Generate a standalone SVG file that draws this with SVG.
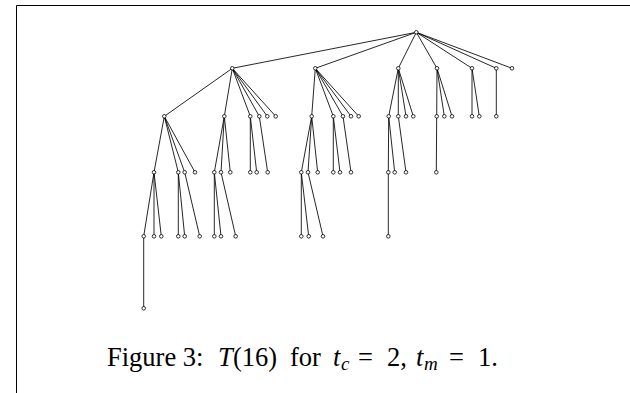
<svg xmlns="http://www.w3.org/2000/svg" width="630" height="393" viewBox="0 0 630 393">
<style>
.n{fill:#fff;stroke:#000;stroke-width:0.8}
.e line{stroke:#000;stroke-width:0.85}
.cap{font-family:"Liberation Serif","DejaVu Serif",serif;font-size:26.5px;fill:#000}
.it{font-style:italic}
.sub{font-size:19px;font-style:italic}
</style>
<rect width="630" height="393" fill="#fff"/>
<path d="M16.5,393 V5.5 H630" fill="none" stroke="#000" stroke-width="1"/>
<g id="connectors" class="e">
<line x1="416.3" y1="32.3" x2="232.3" y2="68.3"/>
<line x1="416.3" y1="32.3" x2="315.3" y2="68.3"/>
<line x1="416.3" y1="32.3" x2="398.3" y2="68.3"/>
<line x1="416.3" y1="32.3" x2="437" y2="68.3"/>
<line x1="416.3" y1="32.3" x2="472" y2="68.3"/>
<line x1="416.3" y1="32.3" x2="496.3" y2="68.3"/>
<line x1="416.3" y1="32.3" x2="512" y2="68.3"/>
<line x1="232.3" y1="68.3" x2="164.3" y2="116.3"/>
<line x1="232.3" y1="68.3" x2="224.3" y2="116.3"/>
<line x1="232.3" y1="68.3" x2="250.3" y2="116.3"/>
<line x1="232.3" y1="68.3" x2="259.3" y2="116.3"/>
<line x1="232.3" y1="68.3" x2="267.3" y2="116.3"/>
<line x1="232.3" y1="68.3" x2="275.7" y2="116.3"/>
<line x1="315.3" y1="68.3" x2="311.7" y2="116.3"/>
<line x1="315.3" y1="68.3" x2="333.3" y2="116.3"/>
<line x1="315.3" y1="68.3" x2="343" y2="116.3"/>
<line x1="315.3" y1="68.3" x2="351" y2="116.3"/>
<line x1="315.3" y1="68.3" x2="358.7" y2="116.3"/>
<line x1="398.3" y1="68.3" x2="388.7" y2="116.3"/>
<line x1="398.3" y1="68.3" x2="398.3" y2="116.3"/>
<line x1="398.3" y1="68.3" x2="406" y2="116.3"/>
<line x1="398.3" y1="68.3" x2="413.3" y2="116.3"/>
<line x1="437" y1="68.3" x2="436.7" y2="116.3"/>
<line x1="437" y1="68.3" x2="444.3" y2="116.3"/>
<line x1="437" y1="68.3" x2="452" y2="116.3"/>
<line x1="472" y1="68.3" x2="472" y2="116.3"/>
<line x1="472" y1="68.3" x2="479.3" y2="116.3"/>
<line x1="496.3" y1="68.3" x2="496.3" y2="116.3"/>
<line x1="164.3" y1="116.3" x2="154" y2="172.3"/>
<line x1="164.3" y1="116.3" x2="178.3" y2="172.3"/>
<line x1="164.3" y1="116.3" x2="184.7" y2="172.3"/>
<line x1="164.3" y1="116.3" x2="195" y2="172.3"/>
<line x1="224.3" y1="116.3" x2="214.3" y2="172.3"/>
<line x1="224.3" y1="116.3" x2="221" y2="172.3"/>
<line x1="224.3" y1="116.3" x2="230.3" y2="172.3"/>
<line x1="250.3" y1="116.3" x2="250.3" y2="172.3"/>
<line x1="250.3" y1="116.3" x2="256.7" y2="172.3"/>
<line x1="259.3" y1="116.3" x2="267.7" y2="172.3"/>
<line x1="311.7" y1="116.3" x2="301.3" y2="172.3"/>
<line x1="311.7" y1="116.3" x2="308" y2="172.3"/>
<line x1="311.7" y1="116.3" x2="317.7" y2="172.3"/>
<line x1="333.3" y1="116.3" x2="333.3" y2="172.3"/>
<line x1="333.3" y1="116.3" x2="340" y2="172.3"/>
<line x1="343" y1="116.3" x2="351" y2="172.3"/>
<line x1="388.7" y1="116.3" x2="388.3" y2="172.3"/>
<line x1="388.7" y1="116.3" x2="394.7" y2="172.3"/>
<line x1="398.3" y1="116.3" x2="406" y2="172.3"/>
<line x1="436.7" y1="116.3" x2="436.3" y2="172.3"/>
<line x1="154" y1="172.3" x2="143.7" y2="236.3"/>
<line x1="154" y1="172.3" x2="154" y2="236.3"/>
<line x1="154" y1="172.3" x2="161.3" y2="236.3"/>
<line x1="178.3" y1="172.3" x2="178.3" y2="236.3"/>
<line x1="178.3" y1="172.3" x2="184.7" y2="236.3"/>
<line x1="184.7" y1="172.3" x2="199.7" y2="236.3"/>
<line x1="214.3" y1="172.3" x2="214.3" y2="236.3"/>
<line x1="214.3" y1="172.3" x2="221" y2="236.3"/>
<line x1="221" y1="172.3" x2="235.7" y2="236.3"/>
<line x1="301.3" y1="172.3" x2="301.3" y2="236.3"/>
<line x1="301.3" y1="172.3" x2="308.7" y2="236.3"/>
<line x1="308" y1="172.3" x2="323" y2="236.3"/>
<line x1="388.3" y1="172.3" x2="388.3" y2="236.3"/>
<line x1="143.7" y1="236.3" x2="143.7" y2="308.3"/>
</g>
<g id="nodes">
<g id="r"><circle class="n" cx="416.3" cy="32.3" r="1.8"/></g>
<g id="a"><circle class="n" cx="232.3" cy="68.3" r="1.8"/></g>
<g id="b"><circle class="n" cx="315.3" cy="68.3" r="1.8"/></g>
<g id="c"><circle class="n" cx="398.3" cy="68.3" r="1.8"/></g>
<g id="d"><circle class="n" cx="437" cy="68.3" r="1.8"/></g>
<g id="e"><circle class="n" cx="472" cy="68.3" r="1.8"/></g>
<g id="f"><circle class="n" cx="496.3" cy="68.3" r="1.8"/></g>
<g id="g"><circle class="n" cx="512" cy="68.3" r="1.8"/></g>
<g id="a1"><circle class="n" cx="164.3" cy="116.3" r="1.8"/></g>
<g id="a2"><circle class="n" cx="224.3" cy="116.3" r="1.8"/></g>
<g id="a3"><circle class="n" cx="250.3" cy="116.3" r="1.8"/></g>
<g id="a4"><circle class="n" cx="259.3" cy="116.3" r="1.8"/></g>
<g id="a5"><circle class="n" cx="267.3" cy="116.3" r="1.8"/></g>
<g id="a6"><circle class="n" cx="275.7" cy="116.3" r="1.8"/></g>
<g id="b1"><circle class="n" cx="311.7" cy="116.3" r="1.8"/></g>
<g id="b2"><circle class="n" cx="333.3" cy="116.3" r="1.8"/></g>
<g id="b3"><circle class="n" cx="343" cy="116.3" r="1.8"/></g>
<g id="b4"><circle class="n" cx="351" cy="116.3" r="1.8"/></g>
<g id="b5"><circle class="n" cx="358.7" cy="116.3" r="1.8"/></g>
<g id="c1"><circle class="n" cx="388.7" cy="116.3" r="1.8"/></g>
<g id="c2"><circle class="n" cx="398.3" cy="116.3" r="1.8"/></g>
<g id="c3"><circle class="n" cx="406" cy="116.3" r="1.8"/></g>
<g id="c4"><circle class="n" cx="413.3" cy="116.3" r="1.8"/></g>
<g id="d1"><circle class="n" cx="436.7" cy="116.3" r="1.8"/></g>
<g id="d2"><circle class="n" cx="444.3" cy="116.3" r="1.8"/></g>
<g id="d3"><circle class="n" cx="452" cy="116.3" r="1.8"/></g>
<g id="e1"><circle class="n" cx="472" cy="116.3" r="1.8"/></g>
<g id="e2"><circle class="n" cx="479.3" cy="116.3" r="1.8"/></g>
<g id="f1"><circle class="n" cx="496.3" cy="116.3" r="1.8"/></g>
<g id="a1a"><circle class="n" cx="154" cy="172.3" r="1.8"/></g>
<g id="a1b"><circle class="n" cx="178.3" cy="172.3" r="1.8"/></g>
<g id="a1c"><circle class="n" cx="184.7" cy="172.3" r="1.8"/></g>
<g id="a1d"><circle class="n" cx="195" cy="172.3" r="1.8"/></g>
<g id="a2a"><circle class="n" cx="214.3" cy="172.3" r="1.8"/></g>
<g id="a2b"><circle class="n" cx="221" cy="172.3" r="1.8"/></g>
<g id="a2c"><circle class="n" cx="230.3" cy="172.3" r="1.8"/></g>
<g id="a3a"><circle class="n" cx="250.3" cy="172.3" r="1.8"/></g>
<g id="a3b"><circle class="n" cx="256.7" cy="172.3" r="1.8"/></g>
<g id="a4a"><circle class="n" cx="267.7" cy="172.3" r="1.8"/></g>
<g id="b1a"><circle class="n" cx="301.3" cy="172.3" r="1.8"/></g>
<g id="b1b"><circle class="n" cx="308" cy="172.3" r="1.8"/></g>
<g id="b1c"><circle class="n" cx="317.7" cy="172.3" r="1.8"/></g>
<g id="b2a"><circle class="n" cx="333.3" cy="172.3" r="1.8"/></g>
<g id="b2b"><circle class="n" cx="340" cy="172.3" r="1.8"/></g>
<g id="b3a"><circle class="n" cx="351" cy="172.3" r="1.8"/></g>
<g id="c1a"><circle class="n" cx="388.3" cy="172.3" r="1.8"/></g>
<g id="c1b"><circle class="n" cx="394.7" cy="172.3" r="1.8"/></g>
<g id="c2a"><circle class="n" cx="406" cy="172.3" r="1.8"/></g>
<g id="d1a"><circle class="n" cx="436.3" cy="172.3" r="1.8"/></g>
<g id="a1a1"><circle class="n" cx="143.7" cy="236.3" r="1.8"/></g>
<g id="a1a2"><circle class="n" cx="154" cy="236.3" r="1.8"/></g>
<g id="a1a3"><circle class="n" cx="161.3" cy="236.3" r="1.8"/></g>
<g id="a1b1"><circle class="n" cx="178.3" cy="236.3" r="1.8"/></g>
<g id="a1b2"><circle class="n" cx="184.7" cy="236.3" r="1.8"/></g>
<g id="a1c1"><circle class="n" cx="199.7" cy="236.3" r="1.8"/></g>
<g id="a2a1"><circle class="n" cx="214.3" cy="236.3" r="1.8"/></g>
<g id="a2a2"><circle class="n" cx="221" cy="236.3" r="1.8"/></g>
<g id="a2b1"><circle class="n" cx="235.7" cy="236.3" r="1.8"/></g>
<g id="b1a1"><circle class="n" cx="301.3" cy="236.3" r="1.8"/></g>
<g id="b1a2"><circle class="n" cx="308.7" cy="236.3" r="1.8"/></g>
<g id="b1b1"><circle class="n" cx="323" cy="236.3" r="1.8"/></g>
<g id="c1a1"><circle class="n" cx="388.3" cy="236.3" r="1.8"/></g>
<g id="a1a1a"><circle class="n" cx="143.7" cy="308.3" r="1.8"/></g>
</g>
<text class="cap" y="366"><tspan x="107">Figure 3:</tspan><tspan class="it" x="218">T</tspan><tspan x="233">(16)</tspan><tspan x="290">for</tspan><tspan class="it" x="333">t</tspan><tspan class="sub" x="341" dy="4">c</tspan><tspan x="358" dy="-4">=</tspan><tspan x="387">2,</tspan><tspan class="it" x="416">t</tspan><tspan class="sub" x="424" dy="4">m</tspan><tspan x="449" dy="-4">=</tspan><tspan x="478">1.</tspan></text>
</svg>
